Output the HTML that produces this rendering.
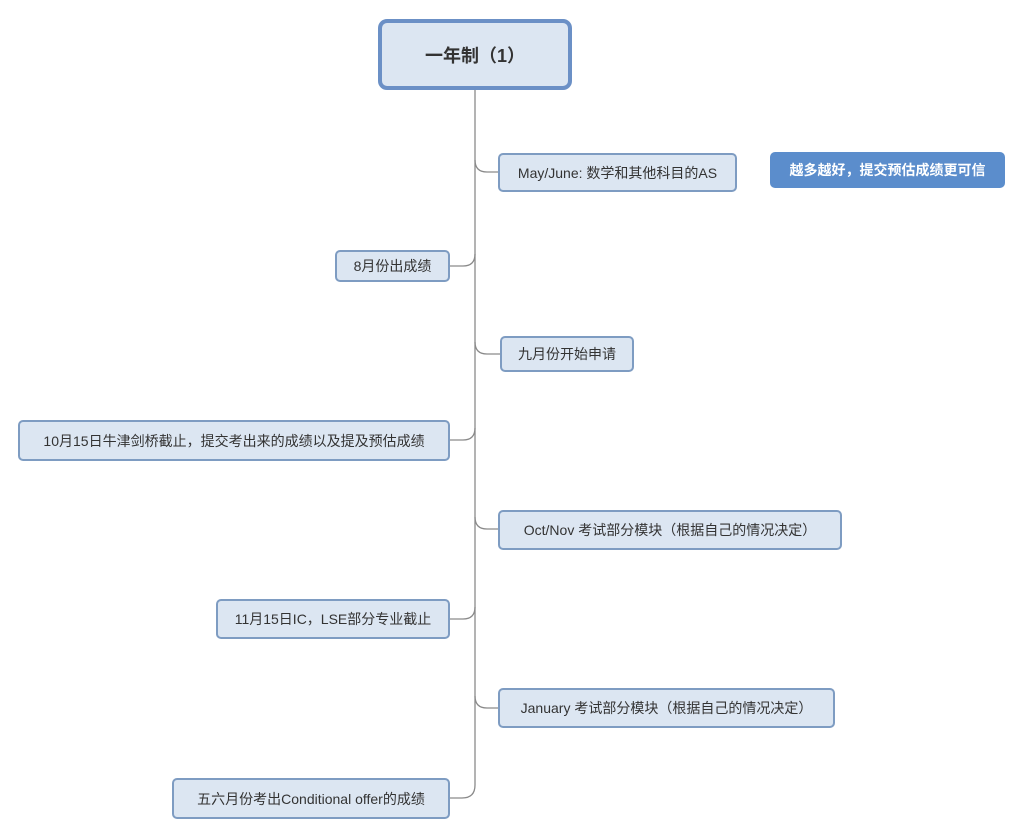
<!DOCTYPE html>
<html><head><meta charset="utf-8"><style>
body{margin:0;width:1024px;height:837px;background:#fff;position:relative;overflow:hidden;font-family:"Liberation Sans","Noto Sans CJK SC",sans-serif}
.b{position:absolute;box-sizing:border-box;background:#dce6f2;border:2px solid #7e9cc2;border-radius:5px;display:flex;align-items:center;justify-content:center;font-size:14px;color:#333;white-space:nowrap}
svg{position:absolute;left:0;top:0}
</style></head><body>
<svg width="1024" height="837"><g fill="none" stroke="#8a8a8a" stroke-width="1.3">
<path d="M475 89 V785 Q475 798 462 798 H450"/>
<path d="M475 160 Q475 172 487 172 H498"/>
<path d="M475 254 Q475 266 463 266 H450"/>
<path d="M475 342 Q475 354 487 354 H500"/>
<path d="M475 428 Q475 440 463 440 H450"/>
<path d="M475 517 Q475 529 487 529 H498"/>
<path d="M475 607 Q475 619 463 619 H450"/>
<path d="M475 696 Q475 708 487 708 H498"/>
</g></svg>
<div class="b" style="left:378px;top:19px;width:194px;height:71px;border:4px solid #6b90c6;border-radius:9px;font-size:18px;font-weight:bold;color:#333">一年制（1）</div>
<div class="b" style="left:498px;top:153px;width:239px;height:39px">May/June: 数学和其他科目的AS</div>
<div class="b" style="left:770px;top:152px;width:235px;height:36px;background:#5b8dcc;border:none;color:#fff;font-weight:bold">越多越好，提交预估成绩更可信</div>
<div class="b" style="left:335px;top:250px;width:115px;height:32px">8月份出成绩</div>
<div class="b" style="left:500px;top:336px;width:134px;height:36px">九月份开始申请</div>
<div class="b" style="left:18px;top:420px;width:432px;height:41px">10月15日牛津剑桥截止，提交考出来的成绩以及提及预估成绩</div>
<div class="b" style="left:498px;top:510px;width:344px;height:40px">Oct/Nov 考试部分模块（根据自己的情况决定）</div>
<div class="b" style="left:216px;top:599px;width:234px;height:40px">11月15日IC，LSE部分专业截止</div>
<div class="b" style="left:498px;top:688px;width:337px;height:40px">January 考试部分模块（根据自己的情况决定）</div>
<div class="b" style="left:172px;top:778px;width:278px;height:41px">五六月份考出Conditional offer的成绩</div>
</body></html>
